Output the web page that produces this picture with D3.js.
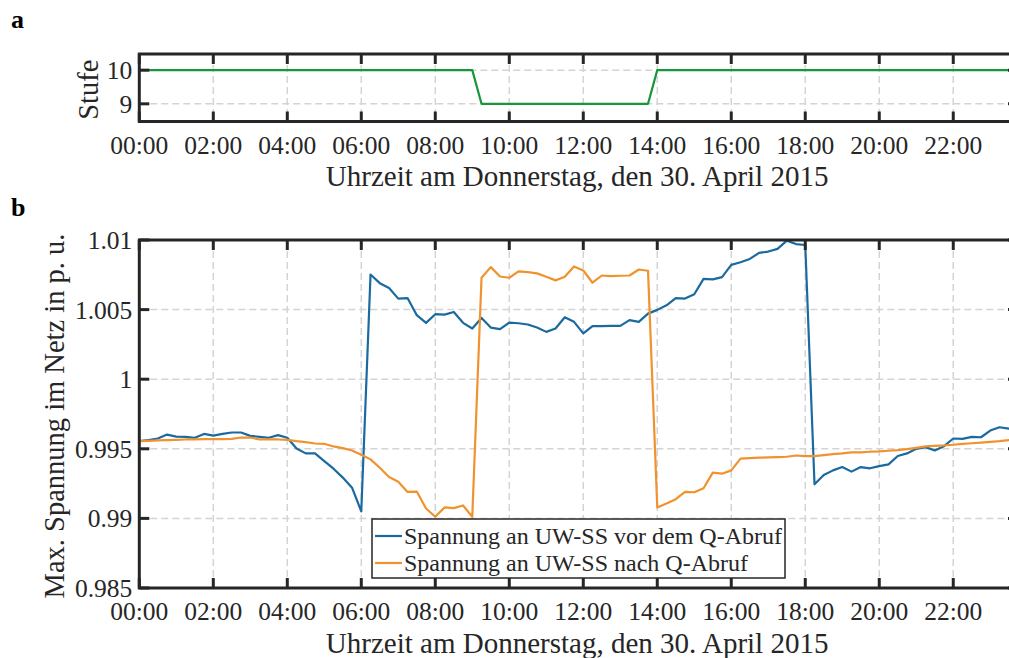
<!DOCTYPE html>
<html><head><meta charset="utf-8">
<script src="https://cdn.jsdelivr.net/npm/d3@7"></script>
<style>
html,body{margin:0;padding:0;background:#fff;}
svg{display:block;font-family:"Liberation Serif","Times New Roman",serif;}
</style></head>
<body>
<svg id="chart" width="1009" height="658"></svg>
<script>
// ---- data ----
const times = ["00:00","00:15","00:30","00:45","01:00","01:15","01:30","01:45","02:00","02:15","02:30","02:45",
"03:00","03:15","03:30","03:45","04:00","04:15","04:30","04:45","05:00","05:15","05:30","05:45",
"06:00","06:15","06:30","06:45","07:00","07:15","07:30","07:45","08:00","08:15","08:30","08:45",
"09:00","09:15","09:30","09:45","10:00","10:15","10:30","10:45","11:00","11:15","11:30","11:45",
"12:00","12:15","12:30","12:45","13:00","13:15","13:30","13:45","14:00","14:15","14:30","14:45",
"15:00","15:15","15:30","15:45","16:00","16:15","16:30","16:45","17:00","17:15","17:30","17:45",
"18:00","18:15","18:30","18:45","19:00","19:15","19:30","19:45","20:00","20:15","20:30","20:45",
"21:00","21:15","21:30","21:45","22:00","22:15","22:30","22:45","23:00","23:15","23:30","23:45"];

const stufe = [10,10,10,10,10,10,10,10,10,10,10,10,10,10,10,10,10,10,10,10,10,10,10,10,
10,10,10,10,10,10,10,10,10,10,10,10,10,9,9,9,9,9,9,9,9,9,9,9,
9,9,9,9,9,9,9,9,10,10,10,10,10,10,10,10,10,10,10,10,10,10,10,10,
10,10,10,10,10,10,10,10,10,10,10,10,10,10,10,10,10,10,10,10,10,10,10,10];

const vorQ = [0.99555,0.99562,0.99574,0.99602,0.99588,0.99586,0.99579,0.99607,0.99595,0.99607,0.99617,0.99617,
0.99593,0.99586,0.99579,0.99598,0.99579,0.99502,0.99467,0.99467,0.99412,0.99357,0.99293,0.99221,
0.99050,1.00752,1.00690,1.00655,1.00579,1.00583,1.00460,1.00405,1.00467,1.00464,1.00483,1.00405,
1.00364,1.00440,1.00371,1.00360,1.00407,1.00402,1.00393,1.00371,1.00340,1.00364,1.00445,1.00412,
1.00329,1.00381,1.00381,1.00383,1.00383,1.00424,1.00412,1.00471,1.00498,1.00531,1.00583,1.00579,
1.00610,1.00721,1.00717,1.00733,1.00821,1.00840,1.00864,1.00907,1.00917,1.00936,1.00995,1.00971,
1.00964,0.99245,0.99312,0.99345,0.99369,0.99336,0.99369,0.99360,0.99376,0.99388,0.99448,0.99467,
0.99500,0.99512,0.99488,0.99519,0.99574,0.99571,0.99586,0.99583,0.99631,0.99655,0.99645,0.99638];

const nachQ = [0.99555,0.99557,0.99560,0.99562,0.99564,0.99567,0.99567,0.99569,0.99569,0.99569,0.99571,0.99581,
0.99581,0.99567,0.99567,0.99567,0.99564,0.99555,0.99548,0.99538,0.99536,0.99517,0.99505,0.99488,
0.99458,0.99424,0.99364,0.99298,0.99264,0.99190,0.99193,0.99071,0.99012,0.99079,0.99074,0.99093,
0.99012,1.00729,1.00805,1.00738,1.00729,1.00774,1.00769,1.00760,1.00736,1.00710,1.00736,1.00810,
1.00781,1.00693,1.00745,1.00740,1.00743,1.00745,1.00788,1.00779,0.99079,0.99107,0.99138,0.99190,
0.99188,0.99217,0.99329,0.99321,0.99345,0.99429,0.99433,0.99436,0.99438,0.99440,0.99443,0.99452,
0.99448,0.99448,0.99455,0.99462,0.99467,0.99474,0.99474,0.99479,0.99481,0.99486,0.99490,0.99498,
0.99507,0.99517,0.99521,0.99524,0.99529,0.99536,0.99540,0.99545,0.99550,0.99555,0.99562,0.99567];

const xTickLabels = ["00:00","02:00","04:00","06:00","08:00","10:00","12:00","14:00","16:00","18:00","20:00","22:00"];
const yTopTicks = [9,10];
const yBotTicks = [0.985,0.99,0.995,1,1.005,1.01];
const yBotTickLabels = ["0.985","0.99","0.995","1","1.005","1.01"];
const seriesNames = ["Spannung an UW-SS vor dem Q-Abruf","Spannung an UW-SS nach Q-Abruf"];
const xTitle = "Uhrzeit am Donnerstag, den 30. April 2015";

// ---- helpers ----
const toH = s => { const [h,m] = s.split(":").map(Number); return h + m/60; };
const hours = times.map(toH);

const svg = d3.select("#chart");
const TXT = "#262626";
const AX = "#262626";
const FS = 25.5;   // tick labels
const FL = 28.5;   // axis titles

const L = 139.3, R = 1018;
const x = d3.scaleLinear().domain([toH(times[0]), toH(times[times.length-1])]).range([L, R]);

function panel(top, bottom, y, yTicks, yLabels, ylabel, ylabelX, data) {
  const g = svg.append("g");
  const id = "clip" + Math.round(top);
  svg.append("clipPath").attr("id", id).append("rect")
    .attr("x", L).attr("y", top).attr("width", R - L).attr("height", bottom - top);
  // grid
  const xt = xTickLabels.map(toH);
  g.selectAll(".gx").data(xt).enter().append("line")
    .attr("x1", d => x(d)).attr("x2", d => x(d)).attr("y1", top).attr("y2", bottom)
    .attr("stroke", "#d4d4d4").attr("stroke-width", 1.5).attr("stroke-dasharray", "7,4");
  g.selectAll(".gy").data(yTicks).enter().append("line")
    .attr("x1", L).attr("x2", R).attr("y1", d => y(d)).attr("y2", d => y(d))
    .attr("stroke", "#d4d4d4").attr("stroke-width", 1.5).attr("stroke-dasharray", "7,4");
  // data
  const line = d3.line().x((d, i) => x(hours[i])).y(d => y(d));
  data.forEach(s => {
    g.append("path").attr("d", line(s.values)).attr("fill", "none")
      .attr("stroke", s.color).attr("stroke-width", 2.2).attr("stroke-linejoin", "round")
      .attr("clip-path", `url(#${id})`);
  });
  // ticks (inward, both sides)
  const tl = 10;
  xt.forEach(d => {
    g.append("line").attr("x1", x(d)).attr("x2", x(d)).attr("y1", bottom).attr("y2", bottom - tl)
      .attr("stroke", AX).attr("stroke-width", 3);
    g.append("line").attr("x1", x(d)).attr("x2", x(d)).attr("y1", top).attr("y2", top + tl)
      .attr("stroke", AX).attr("stroke-width", 3);
  });
  yTicks.forEach(d => {
    g.append("line").attr("x1", L).attr("x2", L + tl).attr("y1", y(d)).attr("y2", y(d))
      .attr("stroke", AX).attr("stroke-width", 3);
    g.append("line").attr("x1", R).attr("x2", R - tl).attr("y1", y(d)).attr("y2", y(d))
      .attr("stroke", AX).attr("stroke-width", 3);
  });
  // box
  g.append("rect").attr("x", L).attr("y", top).attr("width", R - L).attr("height", bottom - top)
    .attr("fill", "none").attr("stroke", AX).attr("stroke-width", 3);
  // tick labels
  g.selectAll(".xl").data(xTickLabels).enter().append("text")
    .attr("x", d => x(toH(d))).attr("y", bottom + 32).attr("text-anchor", "middle")
    .attr("font-size", FS).attr("fill", TXT).text(d => d);
  g.selectAll(".yl").data(yTicks).enter().append("text")
    .attr("x", L - 7).attr("y", d => y(d)).attr("dy", "0.35em").attr("text-anchor", "end")
    .attr("font-size", FS).attr("fill", TXT).text((d, i) => yLabels[i]);
  // x title
  g.append("text").attr("x", (L + R) / 2 - 1.5).attr("y", bottom + 64.5).attr("text-anchor", "middle")
    .attr("font-size", 29).attr("fill", TXT).text(xTitle);
  // y title
  g.append("text").attr("transform", `translate(${ylabelX},${(top + bottom) / 2 + 2}) rotate(-90)`)
    .attr("text-anchor", "middle").attr("font-size", FL).attr("fill", TXT).text(ylabel);
}

// top panel
const yTop = d3.scaleLinear().domain([8.475, 10.48]).range([121.5, 54]);
panel(54, 121.5, yTop, yTopTicks, yTopTicks.map(String), "Stufe", 97.5,
  [{values: stufe, color: "#17963a"}]);

// bottom panel
const yBot = d3.scaleLinear().domain([0.985, 1.01]).range([588, 240]);
panel(240, 588, yBot, yBotTicks, yBotTickLabels, "Max. Spannung im Netz in p. u.", 64,
  [{values: vorQ, color: "#1a6aa0"}, {values: nachQ, color: "#f0922e"}]);

// panel letters
svg.append("text").attr("x", 11).attr("y", 28).attr("font-size", 26).attr("font-weight", "bold")
  .attr("fill", "#000").text("a");
svg.append("text").attr("x", 11).attr("y", 216).attr("font-size", 26).attr("font-weight", "bold")
  .attr("fill", "#000").text("b");

// legend
const lg = svg.append("g");
const lx = 372, ly = 519, lw = 413, lh = 59;
lg.append("rect").attr("x", lx).attr("y", ly).attr("width", lw).attr("height", lh)
  .attr("fill", "#fff").attr("stroke", AX).attr("stroke-width", 1.5);
const lcolors = ["#1a6aa0", "#f0922e"];
seriesNames.forEach((n, i) => {
  const cy = ly + 17 + i * 27;
  lg.append("line").attr("x1", lx + 3).attr("x2", lx + 30).attr("y1", cy).attr("y2", cy)
    .attr("stroke", lcolors[i]).attr("stroke-width", 2.2);
  lg.append("text").attr("x", lx + 32).attr("y", cy).attr("dy", "0.35em")
    .attr("font-size", 24).attr("fill", TXT).text(n);
});
</script>
</body></html>
